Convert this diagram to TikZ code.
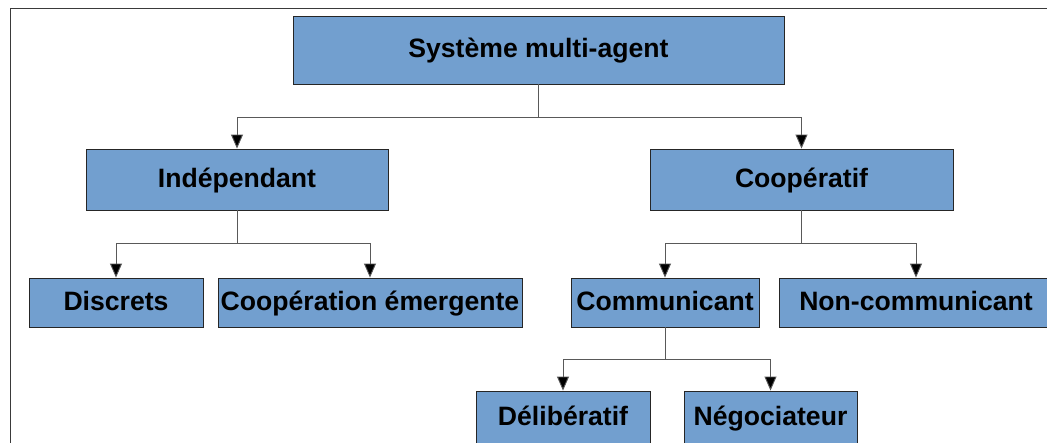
\documentclass[tikz,border=0pt]{standalone}
\usepackage{fontspec}
\setmainfont{Liberation Sans}
\usetikzlibrary{arrows.meta}
\definecolor{boxblue}{HTML}{729FCF}
\definecolor{framegray}{HTML}{3A3A3A}
\tikzset{
  box/.style={draw=black!85, line width=0.9pt, fill=boxblue, inner sep=0pt,
    font=\fontsize{26.6}{30}\selectfont\bfseries, text=black,
    text height=20pt, text depth=5pt},
  lowbox/.style={box, minimum height=61, text height=20pt, text depth=13pt},
  conn/.style={draw=black!65, line width=0.9pt,
    -{Triangle[length=14pt,width=12pt,fill=black]}}
}
\begin{document}
\begin{tikzpicture}[x=1pt, y=-1pt]
  \path[clip] (0,0) rectangle (1047,442);
  \fill[white] (0,0) rectangle (1047,442);
  % outer frame
  \draw[framegray, line width=1pt] (10,450) -- (10,8) -- (1060,8);

  % nodes (centres in pixel units, y grows downward)
  \node[box, minimum width=491, minimum height=68] (sma) at (538.5,50) {Système multi-agent};
  \node[box, minimum width=302, minimum height=61] (ind) at (237,179.5) {Indépendant};
  \node[box, minimum width=303, minimum height=61] (coop) at (801.5,179.5) {Coopératif};
  \node[box, minimum width=174, minimum height=49] (disc) at (116,302.5) {Discrets};
  \node[box, minimum width=304, minimum height=49] (emer) at (370,302.5) {Coopération émergente};
  \node[box, minimum width=188, minimum height=49] (comm) at (665,302.5) {Communicant};
  \node[box, minimum width=274, minimum height=49] (ncomm) at (916,302.5) {Non-communicant};
  \node[lowbox, minimum width=174] (delib) at (563,421.5) {Délibératif};
  \node[lowbox, minimum width=173] (nego) at (770.5,421.5) {Négociateur};

  % connectors
  \draw[conn] (sma.south) -- ++(0,32.5) -| (ind.north);
  \draw[conn] (sma.south) -- ++(0,32.5) -| (coop.north);
  \draw[conn] (ind.south) -- ++(0,33) -| (disc.north);
  \draw[conn] (ind.south) -- ++(0,33) -| (emer.north);
  \draw[conn] (coop.south) -- ++(0,33) -| (comm.north);
  \draw[conn] (coop.south) -- ++(0,33) -| (ncomm.north);
  \draw[conn] (comm.south) -- ++(0,32) -| (delib.north);
  \draw[conn] (comm.south) -- ++(0,32) -| (nego.north);
\end{tikzpicture}
\end{document}
